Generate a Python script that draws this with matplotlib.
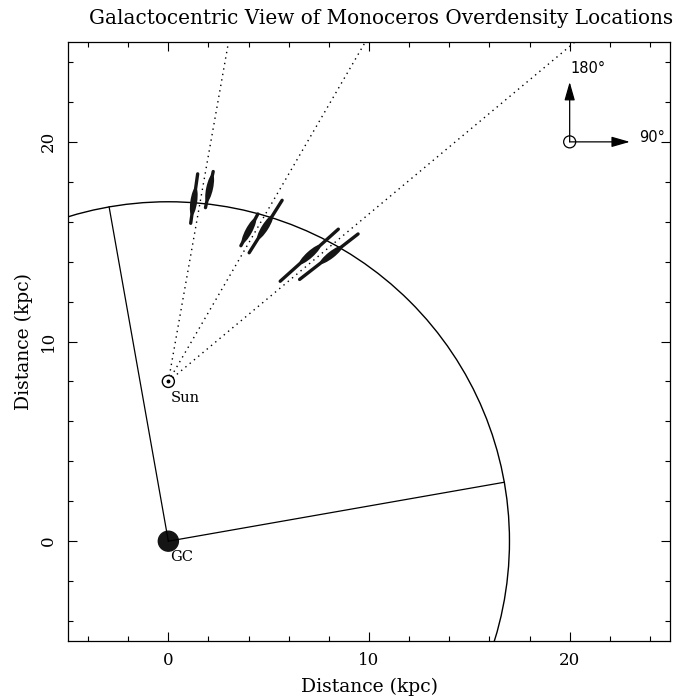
import numpy as np
import matplotlib
matplotlib.use("Agg")
import matplotlib.pyplot as plt
from matplotlib.patches import Circle, Ellipse

# Monoceros fields: galactic longitude (deg) and heliocentric distances (kpc)
lon_deg = [172, 168, 152, 148, 132, 128]
dist_mid = [9.1, 9.9, 8.55, 9.1, 9.5, 10.3]
dist_near = [8.0, 8.9, 7.7, 7.6, 7.5, 8.3]
dist_far = [10.5, 10.75, 9.5, 10.7, 11.4, 12.0]

sightline_lon = [170, 150, 130]      # dotted lines of sight
R_sun = 8.0                          # Sun-GC distance
R_ring = 17.0                        # ring radius
wedge_deg = [100, 10]                # galactocentric azimuths of the wedge edges

SERIF = ["DejaVu Serif"]


def to_xy(l_deg, d):
    # l=90 along +x, l=180 along +y, measured from the Sun
    th = np.radians(np.asarray(l_deg) - 90.0)
    return d * np.cos(th), R_sun + d * np.sin(th)


fig = plt.figure(figsize=(6.85, 6.96), dpi=100)
ax = fig.add_axes([0.0993, 0.0790, 0.8788, 0.8606])
ax.set_xlim(-5, 25)
ax.set_ylim(-5, 25)

# ring and wedge
ax.add_patch(Circle((0, 0), R_ring, fill=False, lw=1.0, color="black"))
for a in wedge_deg:
    t = np.radians(a)
    ax.plot([0, R_ring * np.cos(t)], [0, R_ring * np.sin(t)], color="black", lw=0.9)

# lines of sight
for l in sightline_lon:
    x, y = to_xy([l, l], np.array([0.0, 40.0]))
    ax.plot(x, y, color="black", lw=1.0, ls=(0, (1, 3)))

# overdensity locations
for l, dm, dn, df in zip(lon_deg, dist_mid, dist_near, dist_far):
    x, y = to_xy([l, l], np.array([dn, df]))
    ax.plot(x, y, color="#151515", lw=2.4, solid_capstyle="round")
    xc, yc = to_xy(l, dm)
    ax.add_patch(Ellipse((xc, yc), 1.4, 0.34, angle=l - 90.0,
                         facecolor="#151515", edgecolor="none"))

# Sun and GC
ax.add_patch(Circle((0, R_sun), 0.3, fill=False, lw=1.0, color="black"))
ax.plot([0], [R_sun], "o", ms=1.8, color="black")
ax.text(0.1, R_sun - 0.5, "Sun", fontsize=10.5, family=SERIF, va="top", ha="left")
ax.add_patch(Circle((0, 0), 0.5, color="#151515"))
ax.text(0.1, -0.45, "GC", fontsize=10.5, family=SERIF, va="top", ha="left")

# orientation arrows
ax.add_patch(Circle((20, 20), 0.3, fill=False, lw=0.9, color="black"))
for tip in [(20, 23), (23, 20)]:
    ax.annotate("", xy=tip, xytext=(20, 20),
                arrowprops=dict(arrowstyle="-|>,head_length=0.7,head_width=0.2",
                                color="black", lw=0.9,
                                mutation_scale=16, shrinkA=0, shrinkB=0))
ax.text(20.05, 23.3, "180°", fontsize=10.5, ha="left", va="bottom")
ax.text(23.45, 20.2, "90°", fontsize=10.5, ha="left", va="center")

# ticks
ax.set_xticks([0, 10, 20])
ax.set_yticks([0, 10, 20])
ax.set_xticks(np.arange(-4, 25, 2), minor=True)
ax.set_yticks(np.arange(-4, 25, 2), minor=True)
ax.tick_params(which="both", direction="in", top=True, right=True, color="black")
ax.tick_params(which="major", length=6.5, width=0.8, labelsize=12, pad=8)
ax.tick_params(which="minor", length=3.3, width=0.8)
for lab in ax.get_xticklabels() + ax.get_yticklabels():
    lab.set_family(SERIF)
for lab in ax.get_yticklabels():
    lab.set_rotation(90)
    lab.set_va("center")
for s in ax.spines.values():
    s.set_linewidth(0.9)

ax.set_xlabel("Distance (kpc)", fontsize=13.5, family=SERIF, labelpad=6)
ax.set_ylabel("Distance (kpc)", fontsize=13.5, family=SERIF, labelpad=5)
fig.text(381.5 / 685, 1 - 23.5 / 696,
         "Galactocentric View of Monoceros Overdensity Locations",
         fontsize=14.4, family=SERIF, ha="center", va="baseline")

fig.savefig("out.png", dpi=100)
